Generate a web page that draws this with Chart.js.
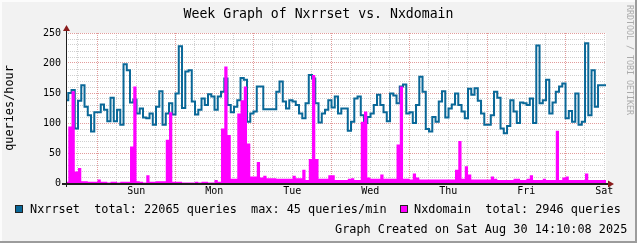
<!DOCTYPE html>
<html lang="en">
<head>
<meta charset="UTF-8">
<title>Week Graph of Nxrrset vs. Nxdomain</title>
<script src="https://cdn.jsdelivr.net/npm/chart.js"></script>
<style>
    body { margin: 0; background: #f2f2f2; }
    .frame {
        position: relative;
        width: 637px;
        height: 243px;
        background: #f2f2f2;
        box-shadow: inset -2px -2px 0 #9c9c9c, inset 2px 2px 0 #fcfcfc;
        font-family: "DejaVu Sans Mono", monospace;
        color: #000;
        overflow: hidden;
    }
    .frame canvas { position: absolute; left: 0; top: 0; }
    .txt { position: absolute; white-space: pre; line-height: 14px; }
    .title { left: 0; width: 637px; top: 6px; text-align: center; font-size: 13.2px; line-height: 16px; }
    .legend { font-size: 11.85px; top: 202px; }
    .created { font-size: 11.85px; top: 222px; left: 335px; }
    .box { position: absolute; width: 8px; height: 8px; top: 205px; border: 1px solid #222; box-sizing: border-box; }
    .stamp {
        position: absolute; left: 625px; top: 5px;
        writing-mode: vertical-rl; font-size: 8.3px; line-height: 9px;
        color: #ababab; white-space: pre;
    }
</style>
</head>
<body>
<div class="frame">
    <canvas id="myChart" width="637" height="243"></canvas>
    <div class="txt title">Week Graph of Nxrrset vs. Nxdomain</div>
    <div class="box" style="left:15px;background:#0a6898"></div>
    <div class="txt legend" style="left:30px">Nxrrset  total: 22065 queries  max: 45 queries/min</div>
    <div class="box" style="left:400px;background:#ff00ff"></div>
    <div class="txt legend" style="left:414px">Nxdomain  total: 2946 queries</div>
    <div class="txt created">Graph Created on Sat Aug 30 14:10:08 2025</div>
    <div class="stamp">RRDTOOL / TOBI OETIKER</div>
</div>
<script>
// hourly values (queries/hour), first bin is the partial hour at the left edge
const nxrrset = [
    122, 138, 150, 155, 91, 137, 163, 127, 113, 86,
    118, 118, 131, 122, 103, 142, 103, 122, 97, 198,
    188, 134, 139, 116, 124, 109, 108, 116, 97, 127,
    153, 97, 116, 133, 114, 149, 228, 125, 186, 188,
    136, 114, 122, 141, 130, 148, 144, 122, 144, 152,
    174, 130, 118, 127, 138, 175, 172, 102, 116, 119,
    161, 161, 123, 123, 123, 123, 152, 169, 136, 124,
    138, 136, 130, 116, 108, 133, 180, 174, 133, 101,
    116, 122, 138, 126, 144, 116, 124, 124, 87, 102,
    141, 144, 113, 100, 110, 116, 130, 147, 130, 118,
    103, 149, 146, 133, 161, 164, 116, 118, 100, 130,
    177, 152, 90, 86, 110, 102, 136, 153, 109, 124,
    131, 149, 130, 119, 108, 157, 147, 158, 137, 116,
    97, 97, 113, 152, 142, 91, 83, 95, 138, 119,
    100, 134, 133, 130, 141, 100, 229, 133, 138, 172,
    116, 134, 152, 161, 166, 108, 120, 102, 149, 97,
    102, 233, 113, 188, 127, 163, 163
];
const nxdomain = [
    1, 2, 94, 153, 19, 25, 3, 3, 2, 2,
    2, 6, 2, 2, 1, 2, 2, 1, 2, 2,
    2, 61, 161, 3, 2, 1, 13, 2, 2, 3,
    3, 3, 72, 118, 2, 2, 2, 1, 1, 1,
    1, 2, 1, 2, 2, 1, 1, 5, 2, 91,
    194, 80, 7, 7, 116, 138, 161, 66, 11, 11,
    35, 9, 12, 8, 8, 8, 7, 7, 7, 7,
    7, 12, 8, 8, 22, 5, 40, 180, 40, 7,
    7, 7, 13, 13, 5, 5, 5, 5, 7, 8,
    5, 5, 102, 119, 9, 7, 7, 7, 14, 7,
    7, 7, 7, 64, 161, 7, 7, 6, 16, 9,
    6, 6, 6, 6, 6, 6, 6, 6, 6, 6,
    6, 22, 70, 7, 28, 14, 6, 6, 6, 6,
    6, 6, 11, 7, 5, 5, 5, 5, 5, 7,
    7, 5, 5, 7, 13, 5, 5, 5, 7, 5,
    5, 5, 87, 5, 9, 11, 5, 5, 5, 5,
    5, 16, 5, 5, 5, 5, 5
];
const dayNames = ['Sun', 'Mon', 'Tue', 'Wed', 'Thu', 'Fri', 'Sat'];
const yLabelValues = [0, 50, 100, 150, 200, 250];

const spanHours = 166.15;    // hours shown on the x axis
const firstFullBin = 0.7;    // hour where the first full hourly bin starts
const sunMidnight = 9.63;    // hour of Sat -> Sun midnight

const FONT = 'DejaVu Sans Mono';

function hourOf(i) {
    return i === 0 ? 0 : firstFullBin + (i - 1);
}
function toPoints(values) {
    const pts = values.map((v, i) => ({ x: hourOf(i), y: v }));
    pts.push({ x: spanHours, y: values[values.length - 1] });
    return pts;
}
function isMidnight(v) {
    const d = (v - sunMidnight) / 24;
    return Math.abs(d - Math.round(d)) < 1e-6;
}
function dayLabel(v) {
    const d = (v - sunMidnight - 12) / 24;
    const r = Math.round(d);
    if (Math.abs(d - r) < 1e-6 && r >= 0 && r < dayNames.length) return dayNames[r];
    return '';
}

// white canvas area under the grid
const canvasBg = {
    id: 'canvasBg',
    beforeDraw(chart) {
        const { ctx, chartArea: a } = chart;
        ctx.save();
        ctx.fillStyle = '#ffffff';
        ctx.fillRect(a.left, a.top, a.right - a.left, a.bottom - a.top);
        ctx.restore();
    }
};

// rrdtool style axes with arrows
const axesArrows = {
    id: 'axesArrows',
    afterDraw(chart) {
        const { ctx, chartArea: a } = chart;
        ctx.save();
        ctx.strokeStyle = '#1f1f1f';
        ctx.lineWidth = 2;
        ctx.beginPath();
        ctx.moveTo(a.left - 4, a.bottom + 1);
        ctx.lineTo(a.right + 4, a.bottom + 1);
        ctx.stroke();
        ctx.lineWidth = 1;
        ctx.beginPath();
        ctx.moveTo(a.left + 0.5, a.bottom + 4);
        ctx.lineTo(a.left + 0.5, a.top - 4);
        ctx.stroke();
        ctx.fillStyle = '#8a1c1c';
        ctx.beginPath();
        ctx.moveTo(a.right + 2, a.bottom + 1 - 3.5);
        ctx.lineTo(a.right + 2, a.bottom + 1 + 3.5);
        ctx.lineTo(a.right + 8, a.bottom + 1);
        ctx.closePath();
        ctx.fill();
        ctx.beginPath();
        ctx.moveTo(a.left + 0.5 - 3.5, a.top - 2);
        ctx.lineTo(a.left + 0.5 + 3.5, a.top - 2);
        ctx.lineTo(a.left + 0.5, a.top - 8);
        ctx.closePath();
        ctx.fill();
        ctx.restore();
    }
};

const ctx = document.getElementById('myChart').getContext('2d');
const myChart = new Chart(ctx, {
    type: 'line',
    data: {
        datasets: [
            {
                label: 'Nxdomain',
                data: toPoints(nxdomain),
                stepped: 'after',
                fill: 'origin',
                backgroundColor: '#ff00ff',
                borderColor: 'rgba(0,0,0,0)',
                borderWidth: 0,
                pointRadius: 0
            },
            {
                label: 'Nxrrset',
                data: toPoints(nxrrset),
                stepped: 'after',
                fill: false,
                borderColor: '#0a6898',
                borderWidth: 2,
                borderJoinStyle: 'miter',
                borderCapStyle: 'butt',
                pointRadius: 0
            }
        ]
    },
    options: {
        responsive: false,
        animation: false,
        devicePixelRatio: 1,
        layout: { padding: { top: 33, right: 31, bottom: 0, left: 0 } },
        plugins: {
            legend: { display: false },
            title: { display: false },
            tooltip: { enabled: false }
        },
        scales: {
            x: {
                type: 'linear',
                min: 0,
                max: spanHours,
                afterBuildTicks: (axis) => {
                    const ticks = [];
                    for (let t = sunMidnight - 6 * Math.floor(sunMidnight / 6); t <= spanHours + 1e-6; t += 6) {
                        ticks.push({ value: t });
                    }
                    axis.ticks = ticks;
                },
                ticks: {
                    autoSkip: false,
                    maxRotation: 0,
                    padding: 2,
                    color: '#000',
                    font: { family: FONT, size: 10 },
                    callback: (v) => dayLabel(v)
                },
                grid: {
                    drawTicks: false,
                    lineWidth: 1,
                    color: (c) => isMidnight(c.tick.value) ? '#e29c9c' : '#cfcfcf'
                },
                border: { display: false, dash: [1, 1] },
                afterFit: (s) => { s.height = 60; }
            },
            y: {
                min: 0,
                max: 250,
                ticks: {
                    stepSize: 10,
                    autoSkip: false,
                    padding: 5,
                    color: '#000',
                    font: { family: FONT, size: 10 },
                    callback: (v) => yLabelValues.includes(v) ? String(v) : ''
                },
                grid: {
                    drawTicks: false,
                    lineWidth: 1,
                    color: (c) => c.tick.value % 50 === 0 ? '#e29c9c' : '#cfcfcf'
                },
                border: { display: false, dash: [1, 1] },
                title: {
                    display: true,
                    text: 'queries/hour',
                    color: '#000',
                    font: { family: FONT, size: 11.85 },
                    padding: { top: 3, bottom: 0 }
                },
                afterFit: (s) => { s.width = 66; }
            }
        }
    },
    plugins: [canvasBg, axesArrows]
});
</script>
</body>
</html>
